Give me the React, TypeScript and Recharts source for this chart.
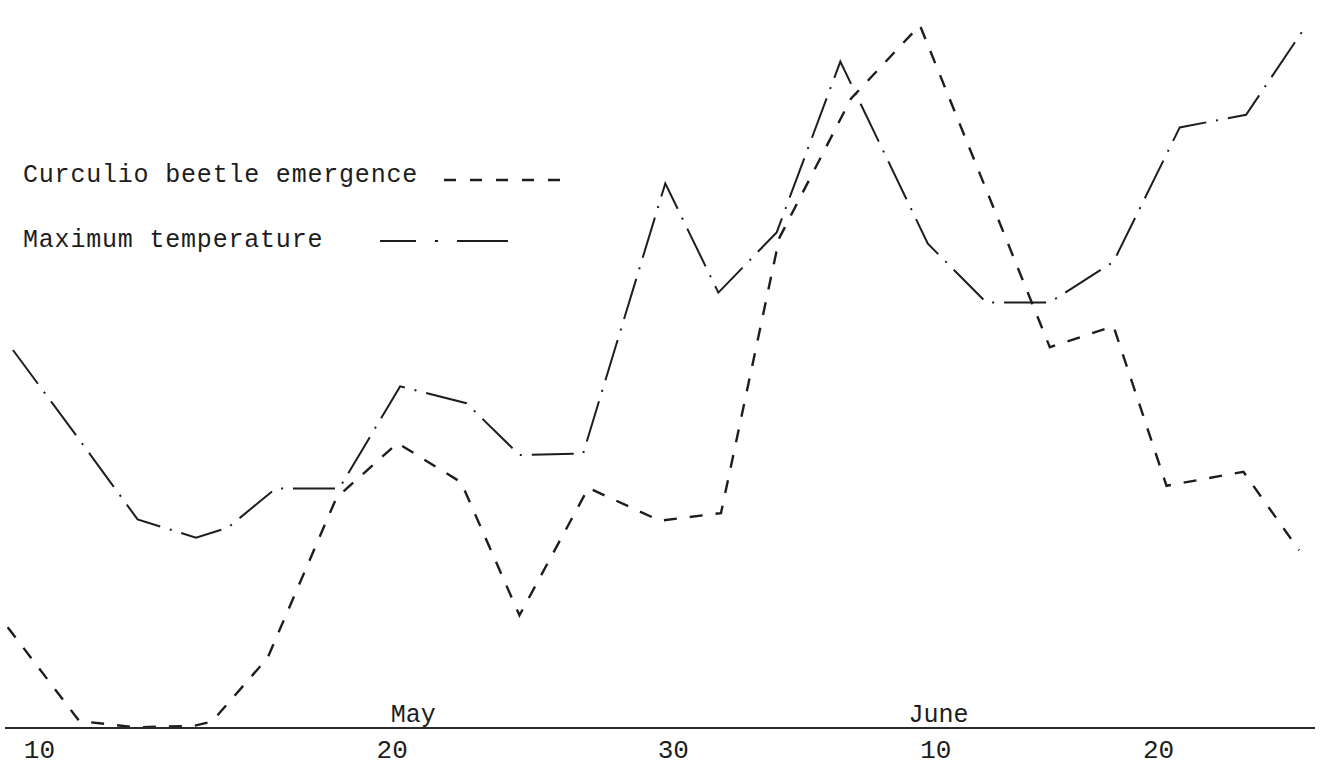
import { Line, LineChart, ReferenceLine, XAxis, YAxis } from "recharts";
import { type JSX } from "react";

// days counted from 1 May (June 10 is read where the typed label sits)
const beetleDays = [
  5.2, 7.9, 10.0, 12.2, 12.9, 15.0, 17.6, 19.9, 22.3, 24.5, 27.1, 29.8, 32.1,
  34.3, 37.0, 39.6, 44.5, 46.9, 48.9, 51.8, 53.9,
];
const beetleCounts = [
  14.4, 1.0, 0.1, 0.3, 0.9, 10.0, 32.9, 40.7, 35.1, 16.1, 34.3, 29.6, 30.7,
  70.0, 89.9, 100.4, 54.4, 57.4, 34.6, 36.6, 25.4,
];

const tempDays = [
  5.4, 7.9, 10.1, 12.3, 13.5, 15.3, 17.7, 20.0, 22.5, 24.5, 26.9, 30.0, 32.0,
  34.2, 36.6, 39.9, 42.1, 44.5, 46.9, 49.4, 51.9, 54.0,
];
const tempMax = [
  71.0, 64.6, 58.9, 57.6, 58.3, 61.1, 61.1, 68.4, 67.2, 63.5, 63.6, 82.9, 75.1,
  79.4, 91.6, 78.6, 74.4, 74.4, 77.3, 86.9, 87.8, 93.7,
];

const tickDays = [6.4, 19.7, 30.3, 40.2, 48.6];
const tickLabels = ["10", "20", "30", "10", "20"];

const monthDays = [20.5, 40.3];
const monthLabels = ["May", "June"];

const beetleData = beetleDays.map((day, i) => ({ day, count: beetleCounts[i] }));
const tempData = tempDays.map((day, i) => ({ day, temp: tempMax[i] }));

const INK = "#1d1d1d";
const FONT = "'Liberation Mono', 'DejaVu Sans Mono', monospace";
const BEETLE_DASH = "13 13";
const TEMP_DASH = "42 10 2 10";

const DayTick = ({ x, y, payload }: any): JSX.Element => {
  const idx = tickDays.indexOf(payload.value);
  return (
    <text
      x={x}
      y={y + 30}
      textAnchor="middle"
      fill={INK}
      fontFamily={FONT}
      fontSize={26}
    >
      {tickLabels[idx] ?? ""}
    </text>
  );
};

const App = (): JSX.Element => {
  return (
    <div
      style={{
        position: "relative",
        width: 1320,
        height: 766,
        background: "#fff",
      }}
    >
      <style>{"body{margin:0;background:#fff}"}</style>
      <LineChart
        width={1320}
        height={766}
        margin={{ top: 0, right: 5, bottom: 8, left: 5 }}
      >
        <XAxis
          type="number"
          dataKey="day"
          domain={[5.1, 54.5]}
          allowDataOverflow
          ticks={tickDays}
          tick={<DayTick />}
          tickLine={false}
          tickSize={0}
          tickMargin={0}
          height={30}
          axisLine={{ stroke: "#2a2a2a", strokeWidth: 2 }}
        />
        <YAxis yAxisId="beetle" hide domain={[0, 104]} />
        <YAxis yAxisId="temp" orientation="right" hide domain={[44, 96]} />
        {monthDays.map((d, i) => (
          <ReferenceLine
            key={monthLabels[i]}
            yAxisId="beetle"
            x={d}
            stroke="none"
            label={{
              value: monthLabels[i],
              position: "insideBottom",
              offset: 6,
              fill: INK,
              fontFamily: FONT,
              fontSize: 25,
            }}
          />
        ))}
        <Line
          yAxisId="beetle"
          data={beetleData}
          dataKey="count"
          type="linear"
          stroke={INK}
          strokeWidth={2.4}
          strokeDasharray={BEETLE_DASH}
          dot={false}
          isAnimationActive={false}
        />
        <Line
          yAxisId="temp"
          data={tempData}
          dataKey="temp"
          type="linear"
          stroke={INK}
          strokeWidth={2}
          strokeDasharray={TEMP_DASH}
          dot={false}
          isAnimationActive={false}
        />
      </LineChart>

      {/* legend, typed on the sheet in the upper left */}
      <div
        style={{
          position: "absolute",
          left: 23,
          top: 163,
          fontFamily: FONT,
          fontSize: 25,
          letterSpacing: 0.8,
          lineHeight: "25px",
          color: INK,
          whiteSpace: "pre",
        }}
      >
        Curculio beetle emergence
      </div>
      <svg
        style={{ position: "absolute", left: 440, top: 170 }}
        width={130}
        height={20}
      >
        <line
          x1={4}
          y1={10}
          x2={126}
          y2={10}
          stroke={INK}
          strokeWidth={2.4}
          strokeDasharray="12 14"
        />
      </svg>
      <div
        style={{
          position: "absolute",
          left: 23,
          top: 228,
          fontFamily: FONT,
          fontSize: 25,
          letterSpacing: 0.8,
          lineHeight: "25px",
          color: INK,
          whiteSpace: "pre",
        }}
      >
        Maximum temperature
      </div>
      <svg
        style={{ position: "absolute", left: 378, top: 231 }}
        width={132}
        height={20}
      >
        <line
          x1={2}
          y1={10}
          x2={130}
          y2={10}
          stroke={INK}
          strokeWidth={2}
          strokeDasharray="36 19 3 19 60"
        />
      </svg>
    </div>
  );
};

export default App;
